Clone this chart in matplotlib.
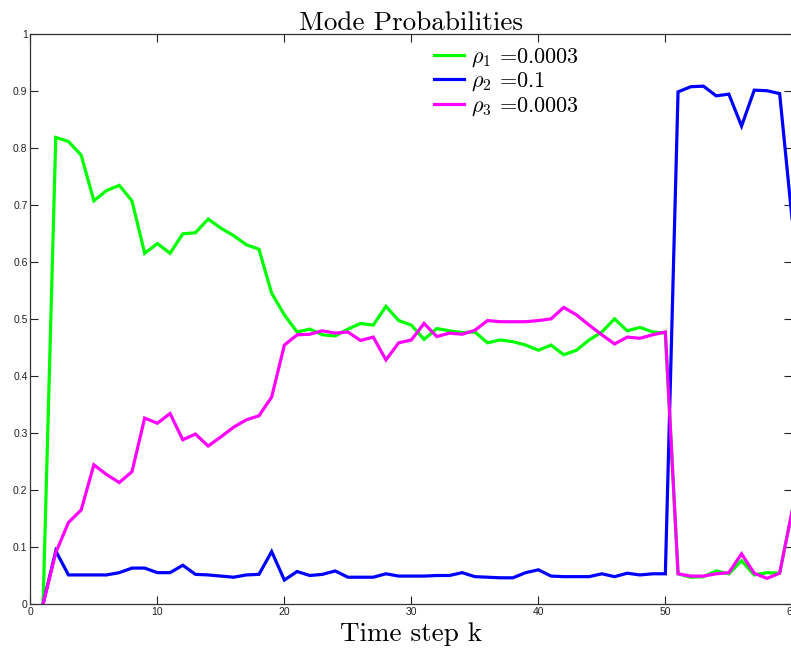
import numpy as np
import matplotlib
matplotlib.use("Agg")
import matplotlib.pyplot as plt

plt.rcParams['mathtext.fontset'] = 'cm'

# time steps and mode probabilities for the three models
k = np.arange(1, 61)

rho1 = [0.0, 0.818, 0.811, 0.787, 0.707, 0.725, 0.734, 0.707, 0.615, 0.632,
        0.615, 0.649, 0.651, 0.675, 0.659, 0.646, 0.630, 0.622, 0.545, 0.507,
        0.477, 0.482, 0.472, 0.470, 0.482, 0.492, 0.489, 0.522, 0.497, 0.489,
        0.464, 0.483, 0.479, 0.476, 0.477, 0.458, 0.463, 0.460, 0.454, 0.445,
        0.454, 0.437, 0.445, 0.463, 0.477, 0.500, 0.479, 0.485, 0.477, 0.475,
        0.053, 0.047, 0.048, 0.058, 0.053, 0.076, 0.051, 0.055, 0.054, 0.165]

rho2 = [0.0, 0.093, 0.051, 0.051, 0.051, 0.051, 0.055, 0.063, 0.063, 0.055,
        0.055, 0.068, 0.052, 0.051, 0.049, 0.047, 0.051, 0.052, 0.092, 0.042,
        0.057, 0.050, 0.052, 0.058, 0.047, 0.047, 0.047, 0.053, 0.049, 0.049,
        0.049, 0.050, 0.050, 0.055, 0.048, 0.047, 0.046, 0.046, 0.055, 0.060,
        0.049, 0.048, 0.048, 0.048, 0.053, 0.048, 0.054, 0.051, 0.053, 0.053,
        0.898, 0.907, 0.908, 0.891, 0.894, 0.838, 0.901, 0.900, 0.895, 0.670]

rho3 = [0.0, 0.090, 0.143, 0.165, 0.244, 0.227, 0.213, 0.232, 0.326, 0.317,
        0.334, 0.288, 0.298, 0.277, 0.293, 0.310, 0.323, 0.330, 0.363, 0.454,
        0.472, 0.473, 0.479, 0.475, 0.477, 0.462, 0.468, 0.428, 0.458, 0.463,
        0.492, 0.469, 0.475, 0.473, 0.480, 0.497, 0.495, 0.495, 0.495, 0.497,
        0.500, 0.520, 0.507, 0.489, 0.472, 0.456, 0.468, 0.466, 0.472, 0.477,
        0.053, 0.049, 0.049, 0.053, 0.055, 0.088, 0.054, 0.045, 0.054, 0.165]

labels = [r'$\rho_1$ =0.0003', r'$\rho_2$ =0.1', r'$\rho_3$ =0.0003']
colors = ['#00ff00', '#0000ff', '#ff00ff']

fig = plt.figure(figsize=(7.91, 6.49), dpi=100)
ax = fig.add_axes([0.0384, 0.0693, 0.9633, 0.8788])

for series, lab, col in zip([rho1, rho2, rho3], labels, colors):
    ax.plot(k, series, color=col, lw=2.3, label=lab, solid_joinstyle='miter')

ax.set_xlim(0, 60)
ax.set_ylim(0, 1)
ax.set_xticks(np.arange(0, 61, 10))
ax.set_yticks(np.arange(0, 1.01, 0.1))
ax.set_yticklabels(['0', '0.1', '0.2', '0.3', '0.4', '0.5', '0.6', '0.7', '0.8', '0.9', '1'])

ax.tick_params(direction='in', length=5.5, width=0.8, top=True, right=True,
               labelsize=7.5, colors='#222222', pad=2)
for lbl in ax.get_xticklabels() + ax.get_yticklabels():
    lbl.set_family('Liberation Sans')
for s in ax.spines.values():
    s.set_color('#333333')
    s.set_linewidth(0.9)

ax.set_title('Mode Probabilities', family='cmr10', fontsize=19.5, pad=3)
ax.set_xlabel('Time step k', family='cmr10', fontsize=19.5, labelpad=4)

leg = ax.legend(loc='upper left', bbox_to_anchor=(434 / 791, 1 - 46 / 649),
                bbox_transform=fig.transFigure, frameon=False, borderpad=0,
                borderaxespad=0, prop={'family': 'cmr10', 'size': 16},
                handlelength=1.35, handletextpad=0.32, labelspacing=0.1)

fig.savefig('out.png', dpi=100)
